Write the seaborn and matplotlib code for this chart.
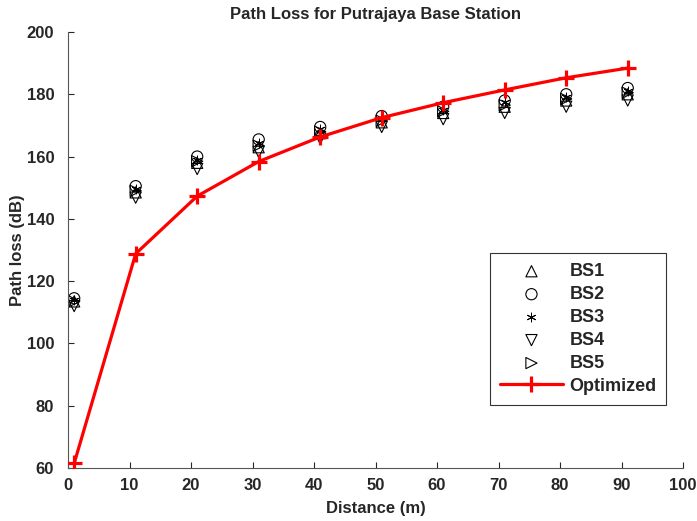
import numpy as np
import pandas as pd
import seaborn as sns
import matplotlib.pyplot as plt

# distances (m)
distance = [1, 11, 21, 31, 41, 51, 61, 71, 81, 91]

# measured path loss per base station (dB)
bs1 = [113.5, 148.5, 158.0, 163.0, 167.5, 171.0, 174.0, 176.0, 178.0, 180.0]
bs2 = [114.5, 150.5, 160.0, 165.5, 169.5, 173.0, 176.0, 178.0, 180.0, 182.0]
bs3 = [114.0, 149.5, 159.0, 164.5, 169.0, 172.0, 175.0, 177.5, 179.0, 181.0]
bs4 = [112.0, 146.8, 156.0, 161.5, 165.8, 169.5, 172.0, 174.0, 176.0, 178.0]
bs5 = [113.5, 149.0, 158.5, 163.5, 168.0, 171.5, 174.5, 176.5, 178.5, 180.5]

# optimized model
optimized = [61.5, 128.8, 147.3, 158.4, 166.3, 172.5, 177.3, 181.4, 185.3, 188.4]

series = {"BS1": bs1, "BS2": bs2, "BS3": bs3, "BS4": bs4, "BS5": bs5}
markers = {"BS1": "^", "BS2": "o", "BS3": (6, 2, 0), "BS4": "v", "BS5": ">"}

sns.set_style("ticks")
plt.rcParams["font.family"] = ["Liberation Sans", "DejaVu Sans"]
plt.rcParams["font.weight"] = "bold"
plt.rcParams["xtick.direction"] = "in"
plt.rcParams["ytick.direction"] = "in"

fig = plt.figure(figsize=(6.97, 5.21), dpi=100)
ax = fig.add_axes([0.0976, 0.1017, 0.8824, 0.8369])

for name, vals in series.items():
    df = pd.DataFrame({"Distance": distance, "PL": vals})
    if name == "BS3":
        sns.scatterplot(data=df, x="Distance", y="PL", marker=markers[name],
                        s=40, color="black", edgecolor="black", linewidth=0.7,
                        label=name, ax=ax, zorder=2)
    else:
        sns.scatterplot(data=df, x="Distance", y="PL", marker=markers[name],
                        s=65, color="none", edgecolor="black", linewidth=0.8,
                        label=name, ax=ax, zorder=2)

df_opt = pd.DataFrame({"Distance": distance, "PL": optimized})
sns.lineplot(data=df_opt, x="Distance", y="PL", color="red", linewidth=2.3,
             marker="+", markersize=11, markeredgewidth=2.3,
             markeredgecolor="red", label="Optimized", ax=ax, zorder=3)

ax.set_xlim(0, 100)
ax.set_ylim(60, 200)
ax.set_xticks(range(0, 101, 10))
ax.set_yticks(range(60, 201, 20))
ax.tick_params(labelsize=12, length=4, width=0.8, top=False, right=False)
ax.tick_params(axis="y", pad=10)
ax.tick_params(axis="x", pad=7)
for lab in ax.get_xticklabels() + ax.get_yticklabels():
    lab.set_fontweight("bold")
for side in ["top", "right"]:
    ax.spines[side].set_visible(False)
for side in ["left", "bottom"]:
    ax.spines[side].set_color("#555555")

ax.set_xlabel("Distance (m)", fontsize=12, fontweight="bold", labelpad=6)
ax.set_ylabel("Path loss (dB)", fontsize=12, fontweight="bold", labelpad=1)
ax.set_title("Path Loss for Putrajaya Base Station", fontsize=12,
             fontweight="bold", pad=9)

leg = ax.legend(loc="upper left", bbox_to_anchor=(0.686, 0.493),
                frameon=True, fancybox=False, edgecolor="black",
                fontsize=13, handlelength=3.5, labelspacing=0.33,
                borderpad=0.55, handletextpad=0.35, borderaxespad=0)
leg.get_frame().set_linewidth(0.8)
for t in leg.get_texts():
    t.set_fontweight("bold")

plt.savefig("out.png", dpi=100)
